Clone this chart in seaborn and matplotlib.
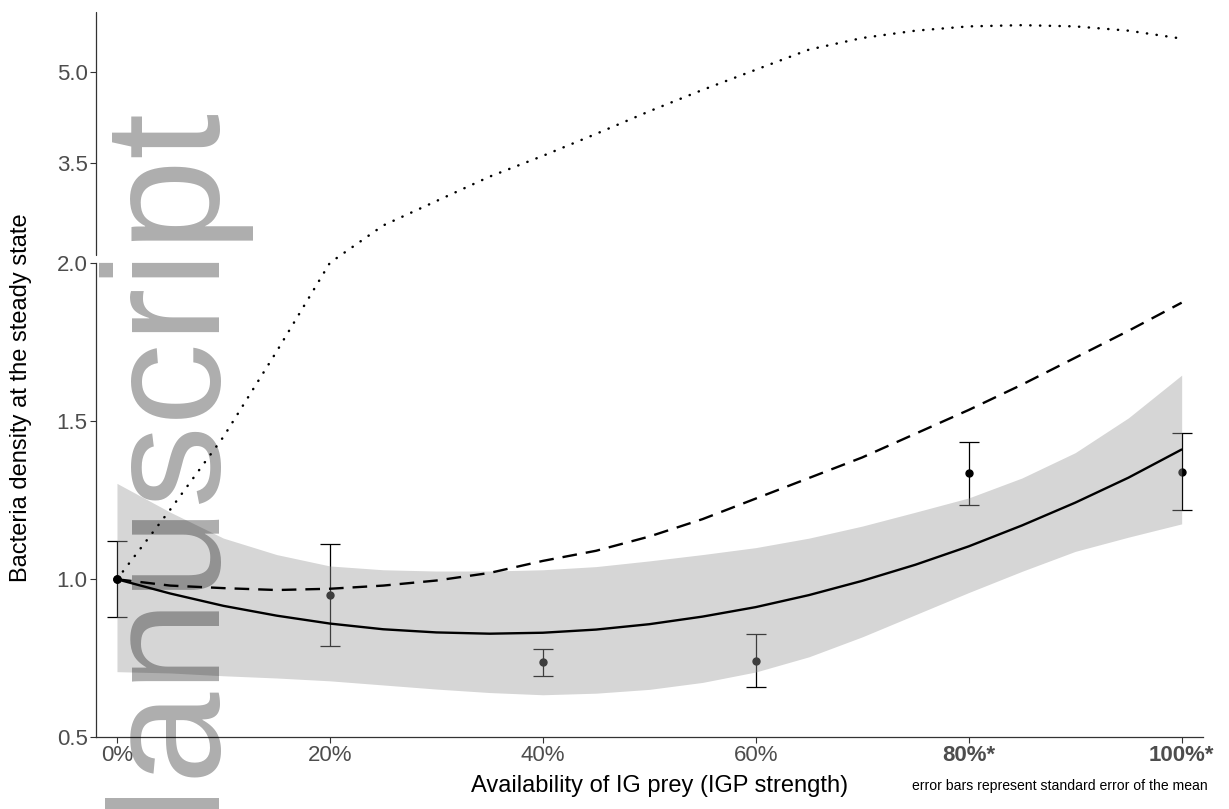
"""
plot.py
Bacteria density at steady state vs availability of IG prey.
Observed means +/- SE, quadratic fit with CI ribbon and two model curves.
"""

import numpy as np
import matplotlib
matplotlib.use("Agg")
import matplotlib.pyplot as plt
import seaborn as sns

availability = [0, 20, 40, 60, 80, 100]
tick_labels = ["0%", "20%", "40%", "60%", "80%*", "100%*"]
bold_ticks = [False, False, False, False, True, True]
mean_density = [1.000, 0.951, 0.737, 0.743, 1.335, 1.340]
se_density = [0.120, 0.161, 0.044, 0.085, 0.099, 0.122]

# Curves, sampled every 5%
curve_x = [0, 5, 10, 15, 20, 25, 30, 35, 40, 45, 50,
           55, 60, 65, 70, 75, 80, 85, 90, 95, 100]
fit_solid = [1.000, 0.955, 0.916, 0.885, 0.860, 0.842, 0.832, 0.828, 0.831, 0.841, 0.858,
             0.882, 0.912, 0.950, 0.995, 1.046, 1.104, 1.170, 1.242, 1.321, 1.410]
ci_upper = [1.303, 1.212, 1.130, 1.078, 1.042, 1.030, 1.026, 1.026, 1.030, 1.040, 1.058,
            1.078, 1.100, 1.130, 1.168, 1.212, 1.257, 1.320, 1.400, 1.510, 1.645]
ci_lower = [0.708, 0.704, 0.695, 0.688, 0.679, 0.666, 0.653, 0.642, 0.635, 0.640, 0.652,
            0.674, 0.707, 0.755, 0.818, 0.888, 0.958, 1.025, 1.088, 1.133, 1.175]
model_dashed = [1.000, 0.980, 0.972, 0.966, 0.970, 0.980, 0.996, 1.020, 1.058, 1.090, 1.135,
                1.190, 1.255, 1.320, 1.385, 1.460, 1.535, 1.615, 1.700, 1.785, 1.874]
model_dotted = [1.000, 1.220, 1.450, 1.720, 2.000, 2.480, 2.880, 3.280, 3.620, 3.980, 4.350,
                4.700, 5.030, 5.360, 5.550, 5.670, 5.740, 5.760, 5.740, 5.670, 5.540]

y_ticks = [0.5, 1.0, 1.5, 2.0, 3.5, 5.0]
x_title = "Availability of IG prey (IGP strength)"
y_title = "Bacteria density at the steady state"
footnote = "error bars represent standard error of the mean"
watermark = "Author Manuscript"

# Broken y axis: linear up to 2.0, small gap, then squeezed above
BREAK = 2.0
GAP = 0.0253
SQUISH = 0.193


def fwd(y):
    y = np.asarray(y, dtype=float)
    return np.where(y <= BREAK, y, BREAK + GAP + (y - BREAK) * SQUISH)


def inv(t):
    t = np.asarray(t, dtype=float)
    upper = BREAK + (t - BREAK - GAP) / SQUISH
    return np.where(t <= BREAK, t, np.where(t < BREAK + GAP, BREAK, upper))


sns.set_style("ticks")
plt.rcParams["font.family"] = ["Liberation Sans", "DejaVu Sans"]

fig = plt.figure(figsize=(12.29, 8.09), dpi=100)
ax = fig.add_axes([0.0781, 0.0884, 0.9007, 0.8971])
ax.set_yscale("function", functions=(fwd, inv))

# error bars under the ribbon
ax.errorbar(availability, mean_density, yerr=se_density, fmt="o", color="black",
            ms=5, capsize=7.5, elinewidth=0.9, capthick=0.9, zorder=2)

ax.fill_between(curve_x, ci_lower, ci_upper, color="#999999", alpha=0.4, lw=0, zorder=3)

sns.lineplot(x=curve_x, y=model_dotted, ax=ax, color="black", lw=1.8,
             linestyle=(0, (0.1, 3.8)), dash_capstyle="round", zorder=4)
sns.lineplot(x=curve_x, y=model_dashed, ax=ax, color="black", lw=1.7,
             linestyle=(0, (6.2, 3.8)), zorder=4)
sns.lineplot(x=curve_x, y=fit_solid, ax=ax, color="black", lw=1.7,
             marker="o", markevery=[0], ms=5.5, mec="black", zorder=5)

ax.set_xlim(-1.97, 102.0)
ax.set_ylim(0.5, 5.98)
ax.set_xticks(availability)
ax.set_xticklabels(tick_labels)
for lab, b in zip(ax.get_xticklabels(), bold_ticks):
    if b:
        lab.set_fontweight("bold")
ax.set_yticks(y_ticks)
ax.set_yticklabels([f"{v:.1f}" for v in y_ticks])
ax.minorticks_off()

ax.tick_params(axis="both", length=4, width=0.8, color="#333333",
               labelsize=16, labelcolor="#4D4D4D", pad=2)
ax.tick_params(axis="x", pad=1.5)

for side in ["top", "right"]:
    ax.spines[side].set_visible(False)
ax.spines["bottom"].set_color("#333333")
ax.spines["bottom"].set_linewidth(0.9)
ax.spines["left"].set_color("#333333")
ax.spines["left"].set_linewidth(0.9)
ax.spines["left"].set_bounds(0.5, BREAK)
# upper piece of the broken left axis
ax.plot([0, 0], [BREAK + 1e-4, 5.98], transform=ax.get_yaxis_transform(),
        color="#333333", lw=0.9, clip_on=False, zorder=6)

ax.set_xlabel(x_title, fontsize=17, color="black")
ax.set_ylabel(y_title, fontsize=17, color="black")
ax.xaxis.set_label_coords(0.5095, -0.052)
ax.yaxis.set_label_coords(-0.058, 0.4686)

fig.text(1208 / 1229, 19 / 809, footnote, ha="right", va="baseline",
         fontsize=10.1, color="black")

# journal watermark on top of everything
fig.text(220 / 1229, (809 - 113) / 809, watermark, rotation=90, rotation_mode="anchor",
         ha="right", va="baseline", fontsize=119, color="black", alpha=0.32, zorder=10)

fig.savefig("out.png", dpi=100)
